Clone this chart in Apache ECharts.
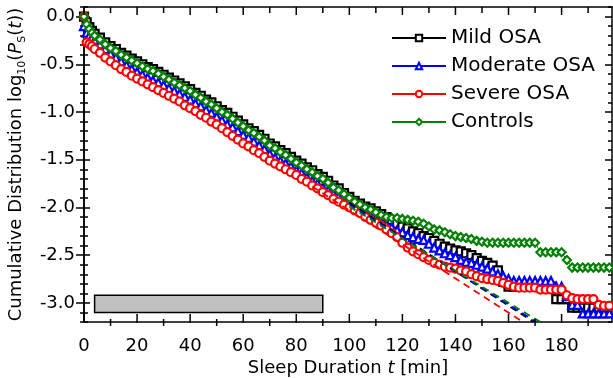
<!DOCTYPE html>
<html>
<head>
<meta charset="utf-8">
<script src="https://cdn.jsdelivr.net/npm/echarts@6/dist/echarts.min.js"></script>
<style>html,body{margin:0;padding:0;background:#fff}#c{width:613px;height:378px}</style>
</head>
<body>
<div id="c"></div>
<script>
var T = [0,1,2,3,4,
 6,8,10,12,14,16,18,20,22,24,
 26,28,30,32,34,36,38,40,42,44,
 46,48,50,52,54,56,58,60,62,64,
 66,68,70,72,74,76,78,80,82,84,
 86,88,90,92,94,96,98,100,102,104,
 106,108,110,112,114,116,118,120,122,124,
 126,128,130,132,134,136,138,140,142,144,
 146,148,150,152,154,156,158,160,162,164,
 166,168,170,172,174,176,178,180,182,184,
 186,188,190,192,194,196,198,200];

var mild = [0.00,-0.06,-0.11,-0.15,-0.18,
 -0.22,-0.27,-0.31,-0.34,-0.38,-0.41,-0.44,-0.47,-0.50,-0.53,
 -0.55,-0.58,-0.61,-0.64,-0.67,-0.70,-0.73,-0.76,-0.80,-0.83,
 -0.87,-0.90,-0.94,-0.98,-1.01,-1.05,-1.09,-1.13,-1.17,-1.20,
 -1.24,-1.28,-1.33,-1.36,-1.40,-1.43,-1.47,-1.51,-1.54,-1.58,
 -1.61,-1.65,-1.68,-1.72,-1.77,-1.80,-1.85,-1.89,-1.93,-1.96,
 -1.99,-2.01,-2.04,-2.07,-2.10,-2.13,-2.17,-2.20,-2.22,-2.25,
 -2.27,-2.30,-2.32,-2.35,-2.38,-2.41,-2.43,-2.45,-2.46,-2.48,
 -2.50,-2.53,-2.56,-2.58,-2.61,-2.66,-2.78,-2.83,-2.83,-2.83,
 -2.83,-2.83,-2.83,-2.83,-2.83,-2.83,-2.96,-2.96,-2.96,-3.05,
 -3.05,-3.05,-3.05,-3.05,-3.05,-3.05,null,null];

var moderate = [-0.10,-0.17,-0.20,-0.22,-0.25,
 -0.29,-0.34,-0.39,-0.43,-0.47,-0.51,-0.55,-0.58,-0.61,-0.64,
 -0.67,-0.69,-0.72,-0.75,-0.78,-0.81,-0.84,-0.87,-0.91,-0.94,
 -0.98,-1.01,-1.05,-1.09,-1.13,-1.16,-1.20,-1.24,-1.27,-1.31,
 -1.35,-1.39,-1.44,-1.48,-1.51,-1.54,-1.57,-1.61,-1.64,-1.68,
 -1.72,-1.75,-1.79,-1.82,-1.86,-1.89,-1.93,-1.96,-1.98,-2.01,
 -2.05,-2.08,-2.12,-2.15,-2.18,-2.21,-2.24,-2.26,-2.29,-2.31,
 -2.33,-2.34,-2.38,-2.42,-2.45,-2.48,-2.50,-2.52,-2.55,-2.57,
 -2.58,-2.60,-2.62,-2.64,-2.67,-2.70,-2.72,-2.75,-2.77,-2.77,
 -2.77,-2.77,-2.77,-2.77,-2.77,-2.77,-2.83,-2.83,-2.93,-3.02,
 -3.02,-3.11,-3.11,-3.11,-3.11,-3.11,-3.11,-3.11];

var severe = [0.00,-0.27,-0.29,-0.31,-0.34,
 -0.38,-0.43,-0.47,-0.51,-0.55,-0.58,-0.62,-0.65,-0.68,-0.71,
 -0.74,-0.77,-0.80,-0.83,-0.86,-0.89,-0.93,-0.96,-0.99,-1.03,
 -1.06,-1.10,-1.13,-1.17,-1.21,-1.25,-1.29,-1.33,-1.36,-1.40,
 -1.43,-1.47,-1.51,-1.54,-1.57,-1.60,-1.63,-1.66,-1.70,-1.73,
 -1.77,-1.80,-1.84,-1.87,-1.91,-1.94,-1.97,-2.00,-2.03,-2.06,
 -2.10,-2.13,-2.16,-2.19,-2.23,-2.27,-2.31,-2.37,-2.42,-2.46,
 -2.49,-2.52,-2.55,-2.58,-2.60,-2.62,-2.63,-2.64,-2.66,-2.67,
 -2.70,-2.72,-2.74,-2.75,-2.76,-2.77,-2.79,-2.81,-2.83,-2.84,
 -2.84,-2.84,-2.84,-2.86,-2.86,-2.86,-2.86,-2.86,-2.92,-2.95,
 -2.96,-2.96,-2.96,-2.96,-3.02,-3.03,-3.03,-3.03];

var controls = [0.00,-0.08,-0.13,-0.17,-0.20,
 -0.24,-0.29,-0.33,-0.36,-0.40,-0.43,-0.46,-0.49,-0.52,-0.55,
 -0.57,-0.60,-0.63,-0.66,-0.69,-0.72,-0.75,-0.78,-0.82,-0.85,
 -0.89,-0.92,-0.96,-1.00,-1.03,-1.07,-1.11,-1.15,-1.19,-1.22,
 -1.26,-1.30,-1.35,-1.38,-1.42,-1.45,-1.49,-1.53,-1.56,-1.60,
 -1.63,-1.67,-1.70,-1.74,-1.79,-1.82,-1.86,-1.90,-1.94,-1.97,
 -2.00,-2.02,-2.05,-2.08,-2.10,-2.11,-2.11,-2.12,-2.13,-2.14,
 -2.15,-2.17,-2.20,-2.23,-2.24,-2.26,-2.28,-2.30,-2.31,-2.32,
 -2.33,-2.35,-2.36,-2.37,-2.37,-2.37,-2.37,-2.37,-2.37,-2.37,
 -2.37,-2.37,-2.37,-2.47,-2.47,-2.47,-2.47,-2.47,-2.55,-2.63,
 -2.63,-2.63,-2.63,-2.63,-2.63,-2.63,-2.63,-2.63];

// exponential fits (straight lines in log scale): [t, log10 P]
var fitMild = [[100,-1.95],[169.5,-3.20]];
var fitModerate = [[100,-1.97],[170.5,-3.20]];
var fitSevere = [[86,-1.78],[165.5,-3.20]];
var fitControls = [[100,-1.99],[172,-3.20]];

// grey bar annotation: [t0, v0, t1, v1]
var greyBox = [[4,-2.92,90,-3.10]];

// x-axis tick positions (minutes)
var xMajorTicks = [0,20,40,60,80,100,120,140,160,180];
var xMinorTicks = [10,30,50,70,90,110,130,150,170,190];

var FONT = 'DejaVu Sans';
var XMIN = 0, XMAX = 199, XTICKMAX = 200, XMAJOR = 20, XLABELMAX = 180;
var YMIN = -3.2, YMAX = 0.1, YMINOR = 0.1;
var YLABMIN = -3.0, YLABMAX = 0.0, YMAJOR = 0.5;

// plot geometry (pixels)
var G = {left:84, right:1, top:7, bottom:56, width:528, height:315};
var pxPerUnit = G.height / (YMAX - YMIN);
var pxPerMin = G.width / (XMAX - XMIN);
var tickRight = G.right - (XTICKMAX - XMAX) * pxPerMin;

var LINE = {color:'#000', width:1.5};

function ax(grid, pos, min, max, interval, len, inside, line, extra){
  var a = {type:'value', gridIndex:grid, position:pos, min:min, max:max, interval:interval,
    axisLine:{show:line, onZero:false, lineStyle:LINE},
    axisTick:{show:len > 0, inside:inside, length:Math.max(len,1), lineStyle:LINE},
    axisLabel:{show:false}, splitLine:{show:false}, axisPointer:{show:false}};
  if (extra) for (var k in extra) a[k] = extra[k];
  return a;
}

var xAxes = [
  ax(0, 'bottom', XMIN, XMAX, XMAJOR, 0, true, true, {
    name:'{a|Sleep Duration }{i|t}{a| [min]}', nameLocation:'middle', nameGap:37,
    nameTextStyle:{rich:{a:{fontSize:18, fontFamily:FONT, color:'#000'}, i:{fontSize:18, fontFamily:FONT, fontStyle:'italic', color:'#000'}}}
  }),
  ax(0, 'top', XMIN, XMAX, XMAJOR, 0, true, true),
  {type:'value', gridIndex:1, min:XMIN, max:XMAX, show:false},
  ax(2, 'bottom', XMIN, XTICKMAX, XMAJOR, 0, true, false, {
    axisLabel:{show:true, margin:15, fontSize:18, fontFamily:FONT, color:'#000',
      formatter:function(v){ return (v % XMAJOR === 0 && v <= XLABELMAX) ? String(v) : ''; }}
  })
];
var yAxes = [
  ax(0, 'left', YMIN, YMAX, YMINOR, 4, true, true, {
    name:'{a|Cumulative Distribution log}{s|10}{a|(}{i|P}{s|S}{a|(}{i|t}{a|))}',
    nameLocation:'middle', nameGap:56,
    nameTextStyle:{rich:{
      a:{fontSize:18, fontFamily:FONT, color:'#000', lineHeight:24},
      i:{fontSize:18, fontFamily:FONT, fontStyle:'italic', color:'#000', lineHeight:24},
      s:{fontSize:11, fontFamily:FONT, color:'#000', lineHeight:12, verticalAlign:'bottom'}
    }}
  }),
  ax(0, 'left', YMIN, YMAX, YMINOR, 4, false, true),
  ax(0, 'right', YMIN, YMAX, YMINOR, 4, true, true),
  ax(1, 'left', YLABMIN, YLABMAX, YMAJOR, 6, true, false, {
    axisLabel:{show:true, margin:9, fontSize:18, fontFamily:FONT, color:'#000',
      formatter:function(v){ return v.toFixed(1); }}
  }),
  ax(1, 'left', YLABMIN, YLABMAX, YMAJOR, 8, false, false),
  ax(1, 'right', YLABMIN, YLABMAX, YMAJOR, 7, true, false),
  {type:'value', gridIndex:2, min:YMIN, max:YMAX, show:false}
];

function dataSeries(name, vals, color, symbol){
  return {name:name, type:'line', data:T.map(function(t,i){ return [t, vals[i]]; }),
    xAxisIndex:0, yAxisIndex:0,
    symbol:symbol, symbolSize:8, showSymbol:true, connectNulls:false,
    lineStyle:{color:color, width:1},
    itemStyle:{color:'#fff', borderColor:color, borderWidth:2.2},
    emphasis:{disabled:true}};
}
function fitSeries(name, pts, color){
  return {name:name, type:'line', data:pts, xAxisIndex:0, yAxisIndex:0, symbol:'none', z:5,
    lineStyle:{color:color, width:1.8, type:[7,5]}, emphasis:{disabled:true}};
}
// x-axis tick marks drawn through the x scale: [inside bottom, outside bottom, inside top]
function tickSeries(name, ticks, inB, outB, inT){
  return {name:name, type:'custom', xAxisIndex:0, yAxisIndex:0, z:6, silent:true, clip:false,
    data:ticks.map(function(t){ return [t, YMIN]; }),
    renderItem:function(params, api){
      var b = api.coord([api.value(0), YMIN]);
      var t = api.coord([api.value(0), YMAX]);
      var st = {stroke:'#000', lineWidth:1.5};
      return {type:'group', children:[
        {type:'line', shape:{x1:b[0], y1:b[1] - inB, x2:b[0], y2:b[1] + outB}, style:st},
        {type:'line', shape:{x1:t[0], y1:t[1], x2:t[0], y2:t[1] + inT}, style:st}
      ]};
    }};
}

var chart = echarts.init(document.getElementById('c'), null, {renderer:'canvas'});
chart.setOption({
  animation:false,
  backgroundColor:'#fff',
  grid:[
    {left:G.left, right:G.right, top:G.top, bottom:G.bottom, outerBoundsMode:'none', containLabel:false},
    {left:G.left, right:G.right,
     top:G.top + (YMAX - YLABMAX) * pxPerUnit,
     bottom:G.bottom + (YLABMIN - YMIN) * pxPerUnit, outerBoundsMode:'none', containLabel:false},
    {left:G.left, right:tickRight, top:G.top, bottom:G.bottom, outerBoundsMode:'none', containLabel:false}
  ],
  legend:{orient:'vertical', left:386, top:23, itemWidth:54, itemHeight:8, itemGap:8,
    data:['Mild OSA','Moderate OSA','Severe OSA','Controls'],
    textStyle:{fontSize:20, fontFamily:FONT, color:'#000'}},
  xAxis:xAxes,
  yAxis:yAxes,
  series:[
    {name:'box', type:'custom', xAxisIndex:0, yAxisIndex:0, data:greyBox, z:1,
      renderItem:function(params, api){
        var p1 = api.coord([api.value(0), api.value(1)]);
        var p2 = api.coord([api.value(2), api.value(3)]);
        return {type:'rect', shape:{x:p1[0], y:p1[1], width:p2[0]-p1[0], height:p2[1]-p1[1]},
          style:{fill:'#c0c0c0', stroke:'#000', lineWidth:1.5}};
      }},
    dataSeries('Mild OSA', mild, '#000000', 'rect'),
    dataSeries('Moderate OSA', moderate, '#0000ff', 'triangle'),
    dataSeries('Severe OSA', severe, '#ff0000', 'circle'),
    dataSeries('Controls', controls, '#008000', 'diamond'),
    fitSeries('fitMild', fitMild, '#000000'),
    fitSeries('fitModerate', fitModerate, '#0000ff'),
    fitSeries('fitControls', fitControls, '#008000'),
    fitSeries('fitSevere', fitSevere, '#ff0000'),
    tickSeries('xMajorTicks', xMajorTicks, 8, 1, 8),
    tickSeries('xMinorTicks', xMinorTicks, 3, 4, 6)
  ]
});
</script>
</body>
</html>
